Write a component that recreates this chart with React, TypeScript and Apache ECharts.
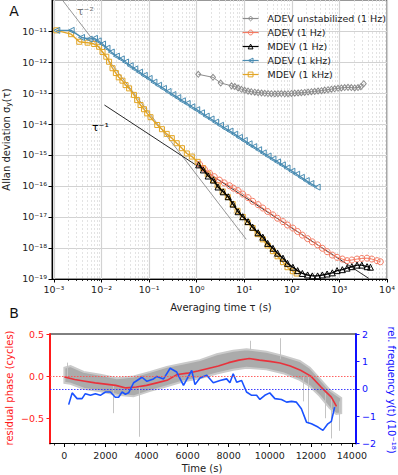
import React, { useEffect, useRef } from "react";
import * as echarts from "echarts";

const FONT = "DejaVu Sans";

// ---------- Panel A : [tau (s), deviation] ----------
const adevUnstab1Hz: [number, number][] = [
  [1.08, 4.0e-13], [2.2, 3.2e-13], [3.2, 2.1e-13], [5.4, 1.7e-13], [6.3, 1.62e-13],
  [7.4, 1.45e-13], [8.7, 1.32e-13], [10.2, 1.22e-13], [12, 1.15e-13], [14, 1.1e-13],
  [16.6, 1.06e-13], [19.5, 1.03e-13], [23, 1.0e-13], [27, 9.8e-14], [31.6, 9.6e-14],
  [37, 9.5e-14], [44, 9.4e-14], [51, 9.5e-14], [60, 9.6e-14], [71, 9.4e-14],
  [83, 9.5e-14], [98, 9.7e-14], [115, 9.9e-14], [135, 1.0e-13], [158, 1.02e-13],
  [186, 1.04e-13], [219, 1.07e-13], [257, 1.1e-13], [302, 1.13e-13], [355, 1.16e-13],
  [417, 1.19e-13], [490, 1.24e-13], [575, 1.28e-13], [676, 1.33e-13], [794, 1.37e-13],
  [933, 1.42e-13], [1096, 1.46e-13], [1288, 1.5e-13], [1514, 1.52e-13], [1778, 1.5e-13],
  [2089, 1.46e-13], [2455, 1.5e-13], [2818, 1.6e-13], [3236, 2.0e-13],
];

const adev1Hz: [number, number][] = [
  [1.15, 5.0e-16], [1.45, 3.5e-16], [1.86, 2.6e-16], [2.34, 2.0e-16], [3.0, 1.55e-16],
  [3.8, 1.26e-16], [4.9, 1.02e-16], [5.9, 8.5e-17], [7.4, 7.1e-17], [9.3, 5.5e-17],
  [12, 4.2e-17], [15, 3.2e-17], [19.5, 2.5e-17], [24.5, 1.95e-17], [31, 1.5e-17],
  [40, 1.17e-17], [50, 9.1e-18], [65, 7.1e-18], [81, 5.5e-18], [105, 4.4e-18],
  [132, 3.4e-18], [166, 2.6e-18], [214, 2.0e-18], [269, 1.58e-18], [347, 1.26e-18],
  [437, 9.8e-19], [550, 7.6e-19], [708, 5.9e-19], [891, 5.0e-19], [1150, 4.4e-19],
  [1445, 3.9e-19], [1820, 4.1e-19], [2340, 4.4e-19], [2950, 4.6e-19], [3800, 4.7e-19],
  [4790, 4.4e-19], [6170, 3.9e-19], [7240, 3.6e-19],
];

const mdev1Hz: [number, number][] = [
  [1.1, 4.8e-16], [1.38, 3.3e-16], [1.74, 2.1e-16], [2.24, 1.55e-16], [2.8, 9.3e-17],
  [3.6, 6.5e-17], [4.6, 4.5e-17], [5.8, 2.6e-17], [7.4, 1.48e-17], [9.3, 1.02e-17],
  [12, 7.1e-18], [15, 4.7e-18], [19.5, 3.1e-18], [24.5, 2.24e-18], [31, 1.41e-18],
  [40, 9.8e-19], [50, 6.8e-19], [65, 4.7e-19], [81, 3.2e-19], [105, 2.4e-19],
  [132, 1.86e-19], [166, 1.51e-19], [214, 1.35e-19], [269, 1.26e-19], [347, 1.26e-19],
  [437, 1.35e-19], [550, 1.45e-19], [708, 1.58e-19], [891, 1.86e-19], [1150, 2.0e-19],
  [1445, 2.24e-19], [1820, 2.5e-19], [2340, 2.8e-19], [2950, 2.8e-19], [3800, 2.5e-19],
  [4470, 2.4e-19],
];

const adev1kHz: [number, number][] = [
  [1.15e-3, 1.05e-11], [2.3e-3, 1.05e-11], [3.8e-3, 6.2e-12], [5.5e-3, 5.5e-12], [7.1e-3, 5.8e-12],
  [8.5e-3, 4.8e-12], [1.05e-2, 3.8e-12], [1.3e-2, 2.8e-12], [1.6e-2, 2.1e-12], [2.05e-2, 1.55e-12],
  [2.6e-2, 1.26e-12], [3.2e-2, 1.0e-12], [4e-2, 7.6e-13], [5e-2, 6.0e-13], [6.3e-2, 4.7e-13],
  [7.9e-2, 3.7e-13], [0.1, 2.95e-13], [0.126, 2.24e-13], [0.158, 1.78e-13], [0.2, 1.41e-13],
  [0.25, 1.12e-13], [0.316, 8.9e-14], [0.4, 7.1e-14], [0.5, 5.6e-14], [0.63, 4.6e-14],
  [0.79, 3.6e-14], [1, 2.9e-14], [1.26, 2.3e-14], [1.58, 1.8e-14], [2, 1.45e-14],
  [2.5, 1.15e-14], [3.16, 9.1e-15], [4, 7.2e-15], [5, 5.9e-15], [6.3, 4.7e-15],
  [7.9, 3.7e-15], [10, 2.95e-15], [12.6, 2.3e-15], [15.8, 1.86e-15], [20, 1.48e-15],
  [25, 1.17e-15], [31.6, 9.3e-16], [40, 7.4e-16], [50, 6.0e-16], [63, 4.8e-16],
  [79, 3.8e-16], [100, 3.0e-16], [126, 2.4e-16], [158, 1.9e-16], [200, 1.5e-16],
  [250, 1.2e-16], [340, 9.2e-17],
];

const mdev1kHz: [number, number][] = [
  [1.12e-3, 1.05e-11], [2.3e-3, 7.9e-12], [3.4e-3, 4.5e-12], [5.1e-3, 4.2e-12], [7.0e-3, 3.8e-12],
  [8.9e-3, 3.1e-12], [1.05e-2, 2.1e-12], [1.26e-2, 1.48e-12], [1.44e-2, 1.02e-12], [1.7e-2, 6.3e-13],
  [2.0e-2, 4.4e-13], [2.3e-2, 3.2e-13], [2.75e-2, 2.5e-13], [3.2e-2, 1.8e-13], [3.8e-2, 1.41e-13],
  [4.8e-2, 8.7e-14], [5.6e-2, 5.9e-14], [6.6e-2, 4.1e-14], [7.8e-2, 3.0e-14], [9.1e-2, 2.2e-14],
  [0.107, 1.66e-14], [0.148, 9.3e-15], [0.186, 6.8e-15], [0.234, 4.8e-15], [0.30, 3.5e-15],
  [0.38, 2.4e-15], [0.49, 1.66e-15], [0.62, 1.12e-15], [0.79, 8.9e-16], [1.05, 6.0e-16],
  [1.35, 3.8e-16], [1.7, 2.4e-16], [2.2, 1.58e-16], [2.75, 1.05e-16], [3.5, 6.6e-17],
  [4.5, 4.4e-17], [5.7, 2.6e-17], [7.2, 1.58e-17], [9.3, 1.0e-17], [11.7, 6.8e-18],
  [15, 4.4e-18], [19, 2.8e-18], [24.5, 1.9e-18], [31, 1.2e-18], [40, 7.9e-19],
  [50, 5.4e-19], [65, 3.5e-19], [81, 2.4e-19], [105, 1.78e-19], [126, 1.5e-19],
];

const slopeMinus2: [number, number][] = [[1.5e-3, 1e-10], [11, 1.9e-18]];
const slopeMinus1: [number, number][] = [[0.0115, 4.1e-14], [4100, 1.05e-19]];

const tauMajor = [1e-3, 1e-2, 1e-1, 1, 10, 100, 1000, 10000];
const sigmaMajor = [1e-19, 1e-18, 1e-17, 1e-16, 1e-15, 1e-14, 1e-13, 1e-12, 1e-11];
const minorSubs = [2, 3, 4, 5, 6, 7, 8, 9];

// ---------- Panel B ----------
const phaseFitT = [0, 500, 1000, 1500, 2000, 2500, 3000, 3500, 4000, 4500, 5000, 5500, 6000, 6500,
  7000, 7500, 8000, 8500, 9000, 9500, 10000, 10500, 11000, 11500, 12000, 12500, 13000, 13250];
const phaseFit = [-0.01, -0.04, -0.06, -0.08, -0.095, -0.11, -0.14, -0.13, -0.11, -0.08, -0.05, 0.02,
  0.035, 0.06, 0.09, 0.12, 0.16, 0.19, 0.21, 0.19, 0.175, 0.155, 0.12, 0.07, 0.0, -0.13, -0.25, -0.36];

const bandT = [0, 300, 940, 1750, 2560, 3370, 4180, 4990, 5800, 6600, 7420, 8220, 8870, 9840,
  10650, 11460, 11950, 12430, 12920, 13240, 13480];
const bandHi = [0.1, 0.12, 0.05, 0.015, -0.025, -0.005, 0.05, 0.11, 0.15, 0.19, 0.26, 0.3, 0.32, 0.29,
  0.24, 0.18, 0.1, -0.03, -0.165, -0.22, -0.26];
const bandLo = [-0.08, -0.09, -0.15, -0.18, -0.22, -0.24, -0.175, -0.12, -0.06, -0.025, 0.03, 0.075,
  0.1, 0.08, 0.035, -0.045, -0.12, -0.235, -0.38, -0.45, -0.44];
// [t, top, bottom] of isolated outliers
const phaseSpikes: [number, number, number][] = [
  [120, 0.16, 0.0], [2400, -0.1, -0.44], [3660, -0.12, -0.72], [9030, 0.42, 0.3], [10490, 0.45, 0.2],
  [11620, 0.0, -0.3], [11860, 0.0, -0.56], [12700, -0.2, -0.5], [13000, -0.25, -0.74], [13370, -0.3, -0.65],
];

const freqT = [210, 380, 620, 860, 1020, 1270, 1510, 1750, 2000, 2240, 2480, 2640, 2810, 2970, 3130,
  3370, 3780, 4020, 4340, 4500, 4830, 5150, 5470, 5800, 6200, 6360, 6600, 6930, 7250, 7580, 7900,
  8060, 8220, 8390, 8630, 8870, 9120, 9360, 9520, 9760, 10000, 10250, 10570, 10820, 11060, 11300,
  11540, 11790, 12030, 12350, 12590, 12830, 13000, 13160];
const freqY = [-0.58, -0.15, -0.36, -0.36, -0.18, -0.24, -0.18, -0.24, -0.12, -0.12, -0.31, -0.31,
  -0.12, -0.2, -0.15, 0.22, 0.42, 0.27, 0.36, 0.45, 0.36, 0.75, 0.61, 0.12, 0.67, 0.15, 0.39, 0.49,
  0.22, 0.3, 0.36, 0.22, 0.55, 0.24, 0.3, -0.12, -0.24, -0.24, -0.39, -0.24, -0.15, -0.36, -0.39,
  -0.49, -0.46, -0.49, -0.73, -1.22, -1.28, -1.4, -1.52, -1.28, -1.19, -0.67];

const timeMajor = [0, 2000, 4000, 6000, 8000, 10000, 12000, 14000];
const phaseTicks = [-0.5, 0, 0.5];

// ---------- helpers ----------
const SUP: Record<string, string> = {
  "-": "⁻", "0": "⁰", "1": "¹", "2": "²", "3": "³", "4": "⁴",
  "5": "⁵", "6": "⁶", "7": "⁷", "8": "⁸", "9": "⁹",
};
const pow10Label = (v: number) =>
  "10" + String(Math.round(Math.log10(v))).split("").map((c) => SUP[c]).join("");
const signed = (s: string, v: number) => (v < 0 ? "−" : "") + s;

const hollow = (color: string) => ({
  color: "rgba(255,255,255,0)",
  borderColor: color,
  borderWidth: 1,
});

const C_GRAY = "#8c8c8c";
const C_RED = "#f47a62";
const C_BLACK = "#000000";
const C_BLUE = "#4a8cb2";
const C_GOLD = "#e2a526";
const C_PHASE = "#ff1a1a";
const C_FREQ = "#1010ff";

const legendNames = ["ADEV unstabilized (1 Hz)", "ADEV (1 Hz)", "MDEV (1 Hz)", "ADEV (1 kHz)", "MDEV (1 kHz)"];
const legendColors = [C_GRAY, C_RED, C_BLACK, C_BLUE, C_GOLD];

export default function App() {
  const ref = useRef<HTMLDivElement>(null);

  useEffect(() => {
    const chart = echarts.init(ref.current!, null, { renderer: "svg" });

    const tauMinor = tauMajor.slice(0, -1).flatMap((d) => minorSubs.map((m) => m * d));
    const timeMinor: number[] = [];
    for (let t = -500; t <= 14000; t += 500) if (t % 2000 !== 0) timeMinor.push(t);

    const lineSeries = (
      name: string, data: [number, number][], color: string, symbol: string,
      size: number | number[], width: number, extra: any = {}
    ) => ({
      name, type: "line", data, xAxisIndex: 0, yAxisIndex: 0,
      symbol, symbolSize: size, showAllSymbol: true,
      itemStyle: hollow(color),
      lineStyle: { color, width },
      silent: true, ...extra,
    });

    const option: any = {
      animation: false,
      textStyle: { fontFamily: FONT },
      grid: [
        { left: 52, right: 7, top: 0, height: 279, show: true, borderColor: "#333", borderWidth: 1 },
        { left: 50, right: 42, top: 334, height: 109.5, show: true, borderColor: "#000", borderWidth: 1 },
      ],
      xAxis: [
        {
          type: "log", gridIndex: 0, min: 9.1e-4, max: 1.0005e4, position: "bottom",
          axisLine: { onZero: false, lineStyle: { color: "#000", width: 1.2 } },
          axisTick: { customValues: tauMajor, length: 3.5, lineStyle: { color: "#000" } },
          axisLabel: { customValues: tauMajor, formatter: pow10Label, fontSize: 9.5, color: "#222", margin: 5, fontFamily: FONT },
          splitLine: { show: true, lineStyle: { color: "#d2d2d2", width: 1.2 } },
        },
        {
          type: "log", gridIndex: 0, min: 9.1e-4, max: 1.0005e4, position: "bottom",
          axisLine: { show: false, onZero: false },
          axisTick: { customValues: tauMinor, length: 2, lineStyle: { color: "#000", width: 0.8 } },
          axisLabel: { show: false },
          splitLine: { show: true, lineStyle: { color: "#dcdcdc", width: 0.8, type: [2, 2] } },
        },
        {
          type: "value", gridIndex: 1, min: -700, max: 14200, position: "bottom",
          axisLine: { onZero: false, lineStyle: { color: "#000", width: 1 } },
          axisTick: { customValues: timeMajor, length: 3.5, lineStyle: { color: "#000" } },
          axisLabel: {
            customValues: timeMajor, fontSize: 9.5, color: "#222", margin: 7, fontFamily: FONT,
            formatter: (v: number) => String(v),
          },
          splitLine: { show: false },
        },
        {
          type: "value", gridIndex: 1, min: -700, max: 14200, position: "bottom",
          axisLine: { show: false, onZero: false },
          axisTick: { customValues: timeMinor, length: 2, lineStyle: { color: "#000", width: 0.8 } },
          axisLabel: { show: false },
          splitLine: { show: false },
        },
      ],
      yAxis: [
        {
          type: "log", gridIndex: 0, min: 0.9995e-19, max: 1.0005e-10,
          axisLine: { onZero: false, lineStyle: { color: "#000", width: 1.2 } },
          axisTick: { customValues: sigmaMajor, length: 3.5, lineStyle: { color: "#000" } },
          axisLabel: { customValues: sigmaMajor, formatter: pow10Label, fontSize: 9.5, color: "#222", margin: 5, fontFamily: FONT },
          splitLine: { show: true, lineStyle: { color: "#d2d2d2", width: 1.2 } },
        },
        {
          type: "value", gridIndex: 1, min: -0.8, max: 0.5, position: "left",
          axisLine: { onZero: false, lineStyle: { color: C_PHASE, width: 2 } },
          axisTick: { customValues: phaseTicks, length: 3.5, lineStyle: { color: C_PHASE } },
          axisLabel: {
            customValues: phaseTicks, fontSize: 9.5, color: C_PHASE, margin: 6, fontFamily: FONT,
            formatter: (v: number) => signed(Math.abs(v).toFixed(1), v),
          },
          splitLine: { show: false },
        },
        {
          type: "value", gridIndex: 1, min: -2, max: 2, interval: 1, position: "right",
          axisLine: { onZero: false, lineStyle: { color: C_FREQ, width: 2 } },
          axisTick: { length: 3.5, lineStyle: { color: C_FREQ } },
          axisLabel: {
            fontSize: 9.5, color: C_FREQ, margin: 6, fontFamily: FONT,
            formatter: (v: number) => signed(String(Math.abs(v)), v),
          },
          splitLine: { show: false },
        },
      ],
      legend: {
        orient: "vertical", left: 237, top: 8, itemWidth: 16, itemHeight: 6, itemGap: 3,
        data: legendNames.map((name, i) => ({
          name,
          itemStyle: { color: "rgba(255,255,255,0)", borderColor: legendColors[i], borderWidth: 1 },
          lineStyle: { color: legendColors[i], width: 1.2 },
        })),
        textStyle: { fontSize: 9.5, lineHeight: 11, color: "#222", fontFamily: FONT, padding: [0, 0, 0, 4] },
        selectedMode: false,
      },
      series: [
        {
          type: "line", data: slopeMinus2, xAxisIndex: 0, yAxisIndex: 0, symbol: "none",
          lineStyle: { color: "#8a8a8a", width: 0.9 }, silent: true, z: 1,
        },
        {
          type: "line", data: slopeMinus1, xAxisIndex: 0, yAxisIndex: 0, symbol: "none",
          lineStyle: { color: "#111", width: 0.9 }, silent: true, z: 1,
        },
        lineSeries("MDEV (1 kHz)", mdev1kHz, C_GOLD, "rect", 5, 1.4, { z: 2 }),
        lineSeries("ADEV (1 Hz)", adev1Hz, C_RED, "circle", 6, 1, { z: 3 }),
        lineSeries("ADEV unstabilized (1 Hz)", adevUnstab1Hz, C_GRAY, "diamond", [5, 6], 1, { z: 3 }),
        lineSeries("ADEV (1 kHz)", adev1kHz, C_BLUE, "triangle", 6, 1.4, { z: 4, symbolRotate: 90 }),
        lineSeries("MDEV (1 Hz)", mdev1Hz, C_BLACK, "triangle", 6, 1.4, { z: 5 }),

        // Panel B
        {
          type: "custom", xAxisIndex: 2, yAxisIndex: 1, data: [[0, 0]], silent: true, z: 1, clip: true,
          renderItem: (_p: any, api: any) => {
            const pts: number[][] = [];
            bandT.forEach((t, i) => pts.push(api.coord([t, bandHi[i]])));
            for (let i = bandT.length - 1; i >= 0; i--) pts.push(api.coord([bandT[i], bandLo[i]]));
            return {
              type: "polygon", shape: { points: pts },
              style: { fill: "#ababab", stroke: "#cacaca", lineWidth: 2 },
            };
          },
        },
        {
          type: "lines", coordinateSystem: "cartesian2d", xAxisIndex: 2, yAxisIndex: 1, silent: true, z: 1,
          data: phaseSpikes.map((s) => ({ coords: [[s[0], s[1]], [s[0], s[2]]] })),
          lineStyle: { color: "#c4c4c4", width: 1, opacity: 1 },
        },
        {
          type: "line", xAxisIndex: 2, yAxisIndex: 1, symbol: "none", silent: true, z: 3,
          data: phaseFitT.map((t, i) => [t, phaseFit[i]]),
          lineStyle: { color: "#e8323c", width: 1.6 },
          markLine: {
            silent: true, symbol: "none", label: { show: false },
            lineStyle: { color: "#ff5050", type: [1.5, 1.5], width: 0.9 },
            data: [{ yAxis: 0 }],
          },
        },
        {
          type: "line", xAxisIndex: 2, yAxisIndex: 2, symbol: "none", silent: true, z: 4,
          data: freqT.map((t, i) => [t, freqY[i]]),
          lineStyle: { color: "#1a52ff", width: 1.6 },
          markLine: {
            silent: true, symbol: "none", label: { show: false },
            lineStyle: { color: "#2b2bff", type: [1.5, 1.5], width: 1, opacity: 0.9 },
            emphasis: { disabled: true },
            data: [{ yAxis: 0, lineStyle: { color: "#2b2bff" } }],
          },
        },
      ],
      graphic: [
        { type: "text", x: 14, y: 11, style: { text: "A", font: `14px ${FONT}`, fill: "#111", align: "center", verticalAlign: "middle" } },
        { type: "text", x: 14, y: 313, style: { text: "B", font: `14px ${FONT}`, fill: "#111", align: "center", verticalAlign: "middle" } },
        { type: "text", x: 77, y: 11, z: 10, style: { text: "τ⁻²", font: `11px ${FONT}`, fill: "#777", align: "left", verticalAlign: "middle" } },
        { type: "text", x: 92, y: 127, z: 10, style: { text: "τ⁻¹", font: `11px ${FONT}`, fill: "#000", align: "left", verticalAlign: "middle" } },
        { type: "text", x: 221, y: 307, style: { text: "Averaging time τ (s)", font: `10px ${FONT}`, fill: "#222", align: "center", verticalAlign: "middle" } },
        {
          type: "text", x: 6, y: 139.5, rotation: Math.PI / 2,
          style: {
            text: "{n|Allan deviation σ}{s|y}{n|(τ)}", align: "center", verticalAlign: "middle",
            rich: {
              n: { fontSize: 10, fontFamily: FONT, fill: "#222", color: "#222" },
              s: { fontSize: 7.5, fontFamily: FONT, fill: "#222", color: "#222", padding: [5, 0, 0, 0] },
            },
          },
        },
        { type: "text", x: 202, y: 468, style: { text: "Time (s)", font: `10px ${FONT}`, fill: "#222", align: "center", verticalAlign: "middle" } },
        {
          type: "text", x: 9.5, y: 388, rotation: Math.PI / 2,
          style: { text: "residual phase (cycles)", font: `10px ${FONT}`, fill: C_PHASE, align: "center", verticalAlign: "middle" },
        },
        {
          type: "text", x: 391, y: 390, rotation: -Math.PI / 2,
          style: { text: "rel. frequency y(t) (10⁻¹⁸)", font: `10px ${FONT}`, fill: C_FREQ, align: "center", verticalAlign: "middle" },
        },
      ],
    };

    chart.setOption(option);
    return () => chart.dispose();
  }, []);

  return (
    <div
      ref={ref}
      style={{ position: "absolute", left: 0, top: 0, width: 398, height: 475, background: "#fff" }}
    />
  );
}
